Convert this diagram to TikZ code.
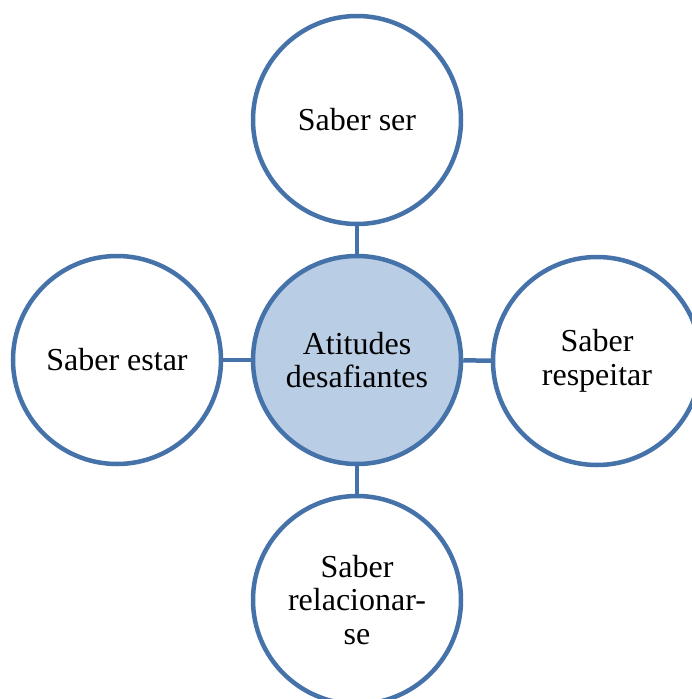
\documentclass[tikz,border=0pt]{standalone}
\usepackage{fontspec}
\setmainfont{Liberation Serif}
\definecolor{ringblue}{RGB}{70,114,170}
\definecolor{hubfill}{RGB}{185,205,229}
\begin{document}
\begin{tikzpicture}[x=1pt,y=-1pt,
  bubble/.style={circle, draw=ringblue, line width=4.5pt, fill=white, minimum size=208pt, inner sep=0pt,
    align=center, font=\fontsize{32}{33.5}\selectfont, text=black},
  hub/.style={bubble, fill=hubfill},
  link/.style={draw=ringblue, line width=4.5pt}]
\useasboundingbox (0,0) rectangle (692,699);
\clip (0,0) rectangle (692,699);
\node[hub] (c) at (357,360) {Atitudes\\desafiantes};
\node[bubble] (t) at (357,120) {Saber ser};
\node[bubble] (l) at (117,360) {Saber estar};
\node[bubble] (r) at (597,361) {Saber\\respeitar};
\node[bubble] (b) at (357,600) {Saber\\relacionar-\\se};
\draw[link] (c) -- (t);
\draw[link] (c) -- (l);
\draw[link] (c) -- (r);
\draw[link] (c) -- (b);
\end{tikzpicture}
\end{document}
